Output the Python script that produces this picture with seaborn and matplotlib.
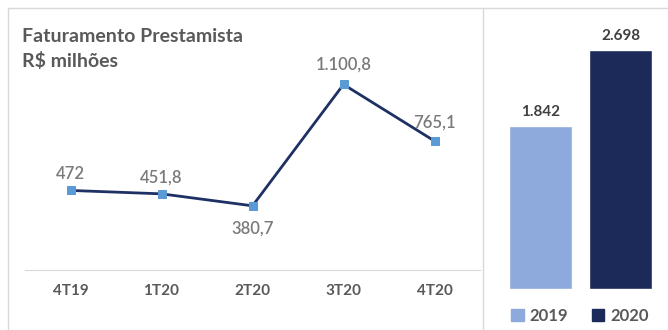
import seaborn as sns
import matplotlib.pyplot as plt
import pandas as pd
from matplotlib.lines import Line2D
from matplotlib.patches import Patch

# dados
trimestres = ['4T19', '1T20', '2T20', '3T20', '4T20']
faturamento = [472, 451.8, 380.7, 1100.8, 765.1]
rotulos_tri = ['472', '451,8', '380,7', '1.100,8', '765,1']

anos = ['2019', '2020']
total_ano = [1842, 2698]
rotulos_ano = ['1.842', '2.698']
cores_ano = ['#8EA9DB', '#1B2A58']

sns.set_style('white')
plt.rcParams['font.family'] = ['Lato', 'DejaVu Sans']

W, H = 668, 330
fig = plt.figure(figsize=(W / 100, H / 100), dpi=100)


def caixa(x0, y0, x1, y1):
    # pixels medidos a partir do canto superior esquerdo
    return [x0 / W, 1 - y1 / H, (x1 - x0) / W, (y1 - y0) / H]


def linha(xs, ys):
    fig.add_artist(Line2D([x / W for x in xs], [1 - y / H for y in ys],
                          color='#D9D9D9', lw=1, transform=fig.transFigure))


# molduras dos painéis
linha([8, W], [8, 8])
linha([8, 8], [8, H])
linha([483, 483], [8, H])

# painel da esquerda: linha trimestral
ax1 = fig.add_axes(caixa(25, 34, 480, 270))
df1 = pd.DataFrame({'tri': trimestres, 'val': faturamento})
sns.lineplot(data=df1, x='tri', y='val', ax=ax1, sort=False,
             color='#1F3064', lw=2, marker='s', markersize=6,
             markerfacecolor='#5B9BD5', markeredgecolor='#5B9BD5')
ax1.set_xlim(-0.5, 4.5)
ax1.set_ylim(0, 1400)
deslocamento = [16, 16, -23, 20, 18]
for i, (v, txt) in enumerate(zip(faturamento, rotulos_tri)):
    ax1.annotate(txt, (i, v), xytext=(0, deslocamento[i]), textcoords='offset pixels',
                 ha='center', va='center', fontsize=12, color='#7A7A7A', fontweight='semibold')
ax1.set_xlabel('')
ax1.set_ylabel('')
ax1.set_yticks([])
ax1.tick_params(axis='x', length=0, pad=10, labelsize=11, labelcolor='#595959')
for t in ax1.get_xticklabels():
    t.set_fontweight('bold')
for s in ['top', 'left', 'right']:
    ax1.spines[s].set_visible(False)
ax1.spines['bottom'].set_color('#D9D9D9')
ax1.patch.set_alpha(0)

fig.text(22 / W, 1 - 28 / H, 'Faturamento Prestamista\nR$ milhões', ha='left', va='top',
         fontsize=14, fontweight='bold', color='#595959', linespacing=1.45)

# painel da direita: barras anuais
ax2 = fig.add_axes(caixa(500, 23, 661, 289))
sns.barplot(x=anos, y=total_ano, hue=anos, palette=cores_ano, width=0.78,
            legend=False, ax=ax2, saturation=1)
ax2.set_xlim(-0.5, 1.5)
ax2.set_ylim(0, 3000)
for i, (v, txt) in enumerate(zip(total_ano, rotulos_ano)):
    ax2.annotate(txt, (i, v), xytext=(0, 14), textcoords='offset pixels',
                 ha='center', va='center', fontsize=11, fontweight='bold', color='#404040')
ax2.set_xticks([])
ax2.set_yticks([])
sns.despine(ax=ax2, left=True, bottom=True)
ax2.patch.set_alpha(0)

alcas = [Patch(color=c, label=a) for a, c in zip(anos, cores_ano)]
leg = fig.legend(handles=alcas, loc='center', bbox_to_anchor=(580 / W, 1 - 316 / H),
                 ncol=2, frameon=False, handlelength=0.75, handleheight=0.75,
                 handletextpad=0.35, columnspacing=1.4,
                 prop={'size': 12, 'weight': 'bold'})
for t in leg.get_texts():
    t.set_color('#595959')

fig.savefig('out.png', dpi=100)
